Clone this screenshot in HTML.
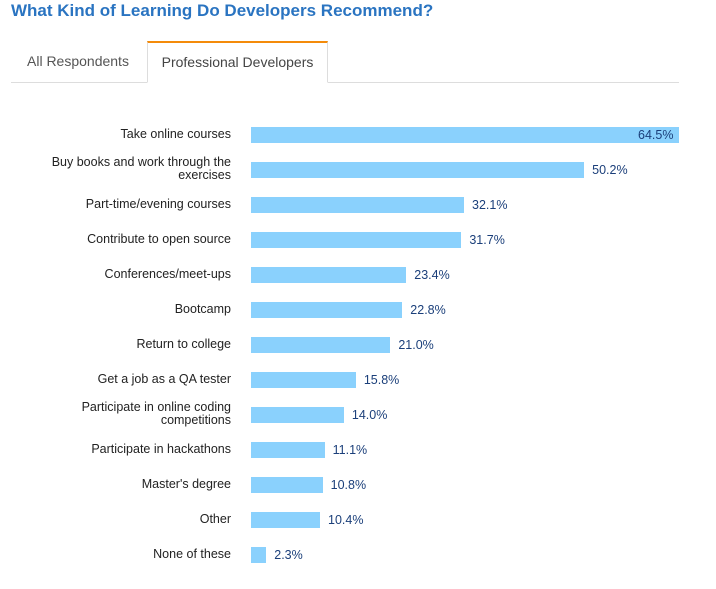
<!DOCTYPE html>
<html><head><meta charset="utf-8"><style>
body{margin:0;width:716px;height:589px;background:#fff;font-family:"Liberation Sans",Arial,sans-serif;position:relative;overflow:hidden}
.t{position:absolute;left:11px;top:1px;font-size:17px;font-weight:bold;color:#2a74c1;white-space:nowrap}
.line{position:absolute;left:11px;top:82px;width:668px;height:1px;background:#ddd}
.tab1{position:absolute;left:27px;top:53px;font-size:14px;color:#555}
.tab2{position:absolute;left:147px;top:41px;width:181px;height:42px;border:1px solid #ddd;border-top:2px solid #f48b0a;border-bottom:1px solid #fff;background:#fff;box-sizing:border-box;font-size:14px;color:#444;text-align:center;line-height:38px}
.l{position:absolute;right:485px;font-size:12.5px;color:#222;text-align:right;line-height:13px;width:220px}
.b{position:absolute;left:251px;height:16px;background:#8ad1fd}
.v{position:absolute;font-size:12.5px;color:#1b3f7a}
</style></head><body>
<div class="t">What Kind of Learning Do Developers Recommend?</div>
<div class="line"></div>
<div class="tab1">All Respondents</div>
<div class="tab2">Professional Developers</div>
<div id="c"></div>
<script>
var d=[["Take online courses",64.5],["Buy books and work through the exercises",50.2],["Part-time/evening courses",32.1],["Contribute to open source",31.7],["Conferences/meet-ups",23.4],["Bootcamp",22.8],["Return to college",21.0],["Get a job as a QA tester",15.8],["Participate in online coding competitions",14.0],["Participate in hackathons",11.1],["Master's degree",10.8],["Other",10.4],["None of these",2.3]];
var h="";d.forEach(function(r,i){var cy=135+i*35,w=r[1]*6.636;var two=r[0].length>32;
var lab=r[0]=="Buy books and work through the exercises"?"Buy books and work through the<br>exercises":r[0]=="Participate in online coding competitions"?"Participate in online coding<br>competitions":r[0];
h+='<div class="l" style="top:'+(cy-(two?14:7))+'px">'+lab+'</div>';
h+='<div class="b" style="top:'+(cy-8)+'px;width:'+w+'px"></div>';
var vx=i==0?251+w-41:251+w+8;
h+='<div class="v" style="top:'+(cy-7)+'px;left:'+vx+'px">'+r[1].toFixed(1)+'%</div>';});
document.getElementById("c").innerHTML=h;
</script>
</body></html>
